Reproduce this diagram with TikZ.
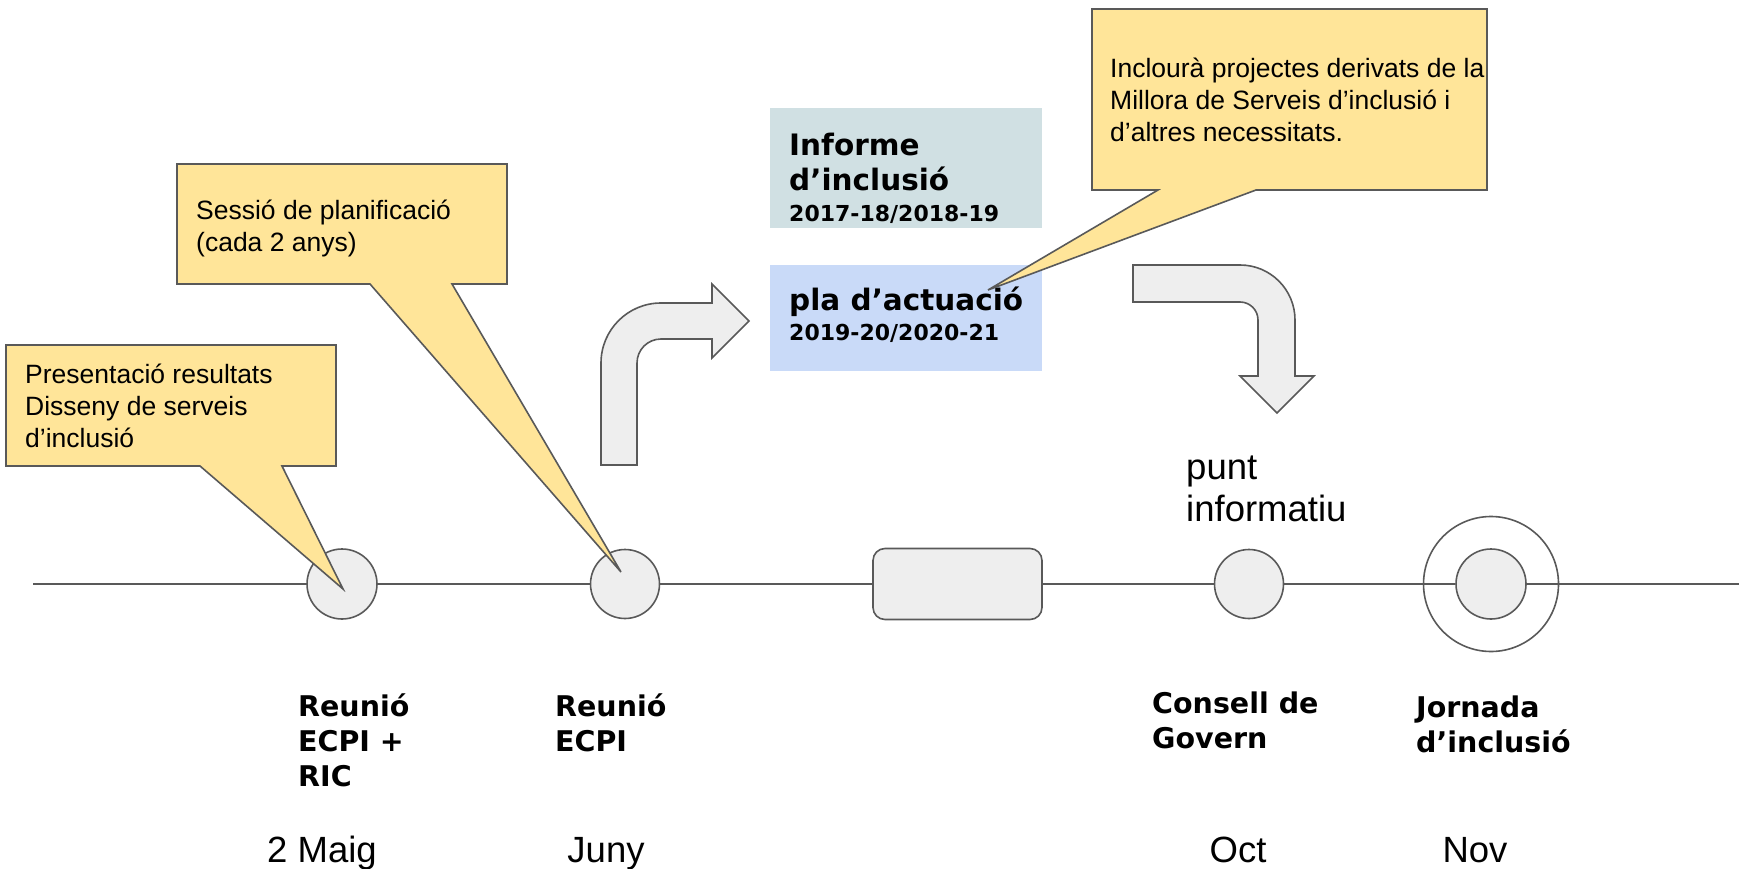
\documentclass[tikz,border=0pt]{standalone}
\usepackage{fontspec}
\setmainfont{Liberation Sans}
\newfontfamily\verd{DejaVu Sans}
\definecolor{calloutfill}{HTML}{FFE599}
\definecolor{edgegray}{HTML}{595959}
\definecolor{shapefill}{HTML}{EEEEEE}
\definecolor{informefill}{HTML}{D0E0E3}
\definecolor{plafill}{HTML}{C9DAF8}
\begin{document}
\begin{tikzpicture}[x=1pt,y=-1pt,
  edge/.style={draw=edgegray,line width=1.6pt},
  callout/.style={draw=edgegray,fill=calloutfill,line width=1.6pt,line join=miter},
  milestone/.style={circle,draw=edgegray,fill=shapefill,line width=1.6pt,minimum size=69pt,inner sep=0pt},
  ctext/.style={anchor=base west,align=left,inner sep=0pt,font=\fontsize{26.5}{32}\selectfont},
  bigtext/.style={anchor=base west,align=left,inner sep=0pt,font=\fontsize{36.5}{42}\selectfont},
  month/.style={anchor=base,inner sep=0pt,font=\fontsize{36.5}{42}\selectfont},
  evlabel/.style={anchor=base west,align=left,inner sep=0pt,font=\verd\bfseries\fontsize{28.5}{35}\selectfont},
  boxtitle/.style={anchor=base west,align=left,inner sep=0pt,font=\verd\bfseries\fontsize{29.5}{35}\selectfont},
  boxyears/.style={anchor=base west,inner sep=0pt,font=\verd\bfseries\fontsize{22}{26}\selectfont},
  ]
\useasboundingbox (0,0) rectangle (1739,869);

% timeline milestones
\coordinate (tlstart) at (33,584);
\coordinate (tlend) at (1739,584);
\node[milestone, minimum size=70pt] (m1) at (342,584) {};
\node[milestone] (m2) at (625,584) {};
\node[rectangle, rounded corners=12pt, draw=edgegray, fill=shapefill, line width=1.6pt,
      minimum width=169pt, minimum height=71pt, inner sep=0pt] (mbox) at (957.5,584) {};
\node[milestone] (m4) at (1249,584) {};
\node[circle, draw=edgegray, line width=1.6pt, minimum size=135pt, inner sep=0pt] (m5ring) at (1491,584) {};
\node[milestone, minimum size=70pt] (m5) at (1491,584) {};
\draw[edge] (tlstart) -- (m1) (m1) -- (m2) (m2) -- (mbox) (mbox) -- (m4) (m4) -- (m5) (m5) -- (tlend);

% info boxes
\node[fill=informefill, anchor=north west, minimum width=272pt, minimum height=120pt, inner sep=0pt] (informebox) at (770,108) {};
\node[fill=plafill, anchor=north west, minimum width=272pt, minimum height=106pt, inner sep=0pt] (plabox) at (770,265) {};
\node[boxtitle] (inf) at (789,190) {Informe\\d’inclusió};
\node[boxyears] (infy) at (789,221) {2017-18/2018-19};
\node[boxtitle] (pla) at (789,310) {pla d’actuació};
\node[boxyears] (play) at (789,340) {2019-20/2020-21};

% bent arrows
\draw[edge, fill=shapefill, line join=miter] (601,465) -- (601,363) arc[start angle=180,end angle=270,radius=60]
  -- (712,303) -- (712,284) -- (749,321) -- (712,358) -- (712,339) -- (661,339)
  arc[start angle=270,end angle=180,radius=24] -- (637,465) -- cycle;
\draw[edge, fill=shapefill, line join=miter] (1133,265) -- (1240,265) arc[start angle=270,end angle=360,radius=55]
  -- (1295,376) -- (1314,376) -- (1277,413) -- (1240,376) -- (1258,376) -- (1258,320)
  arc[start angle=0,end angle=-90,radius=18] -- (1133,302) -- cycle;

% callouts
\draw[callout] (6,345) -- (336,345) -- (336,466) -- (282,466) -- (343,589) -- (200,466) -- (6,466) -- cycle;
\draw[callout] (177,164) -- (507,164) -- (507,284) -- (452,284) -- (621,572) -- (370,284) -- (177,284) -- cycle;
\draw[callout] (1092,9) -- (1487,9) -- (1487,190) -- (1256,190) -- (988,290) -- (1158,190) -- (1092,190) -- cycle;
\node[ctext] (t1) at (25,447) {Presentació resultats\\Disseny de serveis\\d’inclusió};
\node[ctext] (t2) at (196,251) {Sessió de planificació\\(cada 2 anys)};
\node[ctext] (t3) at (1110,142) {Inclourà projectes derivats de la\\Millora de Serveis d’inclusió i\\d’altres necessitats.};

\node[bigtext] (punt) at (1186,521) {punt\\informatiu};

% event labels
\node[evlabel] (l1) at (298,786) {Reunió\\ECPI +\\RIC};
\node[evlabel] (l2) at (555,751) {Reunió\\ECPI};
\node[evlabel] (l4) at (1152,748) {Consell de\\Govern};
\node[evlabel] (l5) at (1416,752) {Jornada\\d’inclusió};

% months
\node[month] (d1) at (322,862) {2 Maig};
\node[month] (d2) at (606,862) {Juny};
\node[month] (d4) at (1238,862) {Oct};
\node[month] (d5) at (1475,862) {Nov};
\end{tikzpicture}
\end{document}
